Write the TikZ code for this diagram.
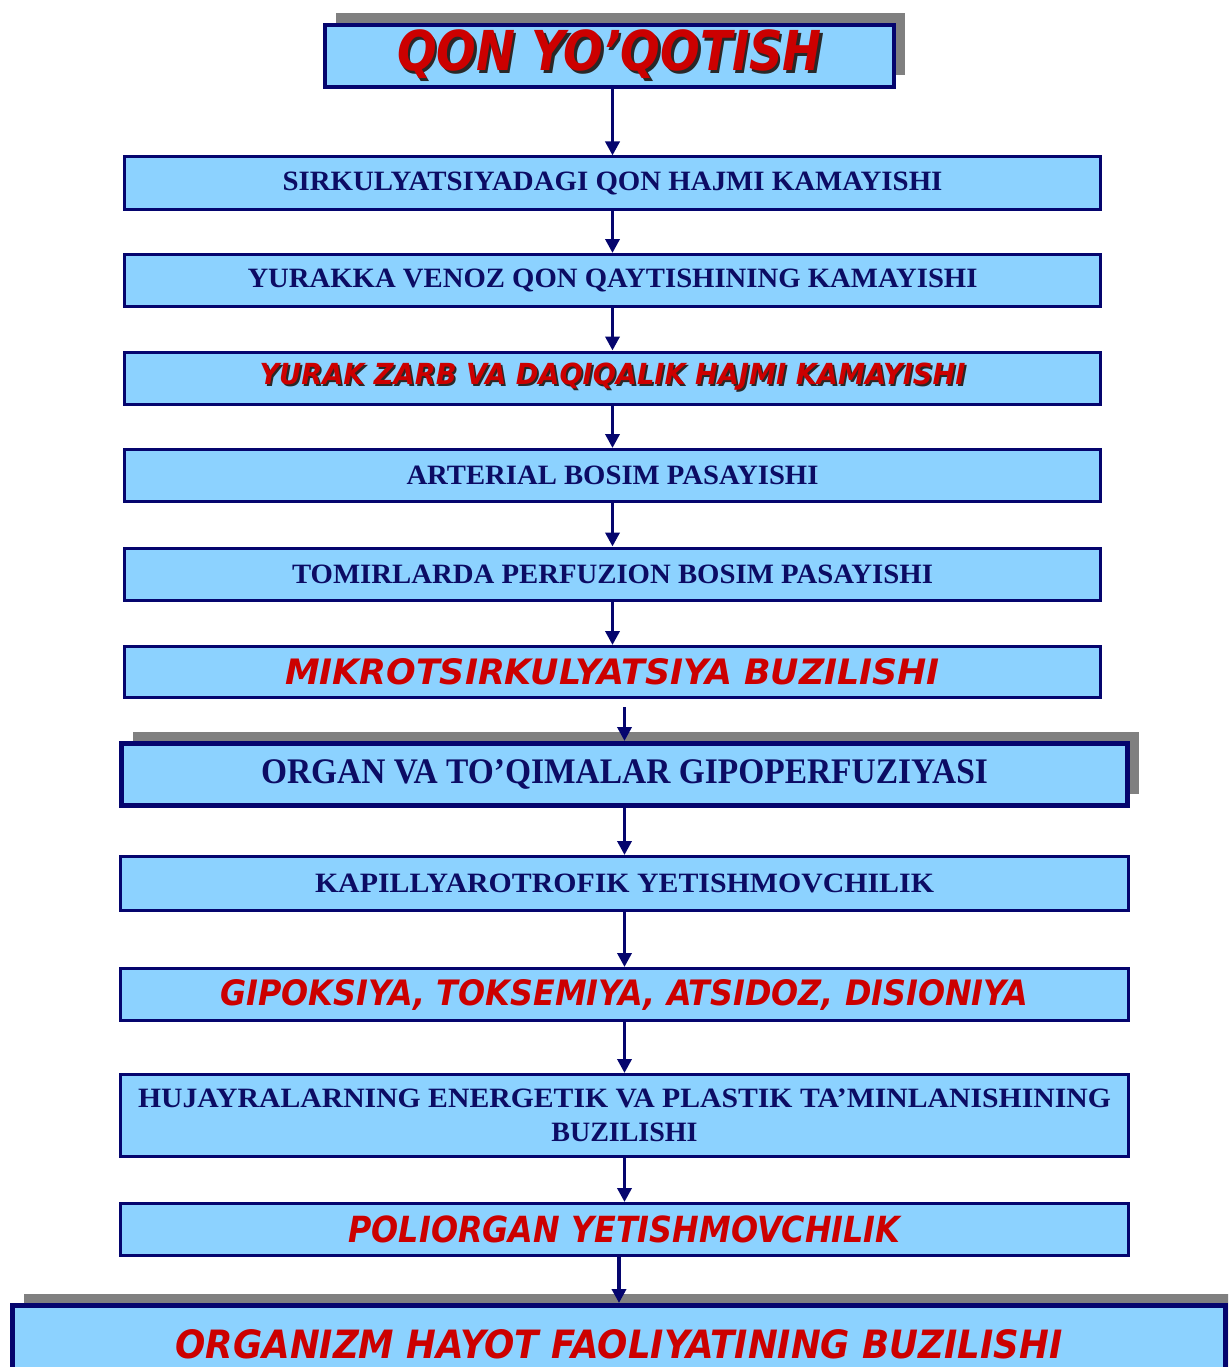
\documentclass[tikz,border=0pt]{standalone}
\usepackage{fontspec}
\setmainfont{Liberation Serif}
\newfontfamily\redsans{DejaVu Sans}
\usetikzlibrary{arrows.meta,shadows}

\definecolor{boxfill}{RGB}{140,210,255}
\definecolor{navyline}{RGB}{5,5,110}
\definecolor{navytext}{RGB}{12,12,100}
\definecolor{alertred}{RGB}{204,0,0}
\definecolor{shadowgray}{RGB}{128,128,128}
\definecolor{textshade}{RGB}{40,40,40}

% stretch or squeeze a label horizontally to a given width
\newlength\fitlen
\newcommand\fitto[2]{\settowidth\fitlen{#2}\pgfmathsetmacro\fitr{#1/\fitlen}\scalebox{\fitr}[1]{#2}}
% red lettering with a dark drop shadow
\newcommand\shtext[2][2pt]{\leavevmode\rlap{\kern#1\raisebox{-#1}{\color{textshade}#2}}#2}

\tikzset{
  box/.style={draw=navyline, fill=boxfill, line width=3pt, rectangle, inner sep=0pt,
              minimum width=976pt, minimum height=52pt, align=center},
  widebox/.style={box, minimum width=1008pt},
  serif/.style={font=\bfseries\fontsize{28pt}{34pt}\selectfont, text=navytext},
  alert/.style={font=\redsans\bfseries\itshape\fontsize{35pt}{40pt}\selectfont, text=alertred},
  gshadow/.style={general shadow={shadow xshift=11pt, shadow yshift=12pt, fill=shadowgray, draw=none}},
  arr/.style={draw=navyline, line width=3.5pt, -{Triangle[width=14pt,length=14pt]}},
}

\begin{document}
\begin{tikzpicture}[x=1pt, y=-1pt]
\clip (0,0) rectangle (1228,1367);
\fill[white] (0,0) rectangle (1228,1367);

% head of the chain
\node[box, gshadow, line width=4pt, minimum width=569pt, minimum height=62pt,
      font=\redsans\bfseries\itshape\fontsize{55pt}{60pt}\selectfont, text=alertred]
  (t) at (609.5,56) {\fitto{425pt}{\shtext[3pt]{QON YO’QOTISH}}};

% upper chain
\node[box, serif] (b2) at (612.5,183) {\fitto{660pt}{SIRKULYATSIYADAGI QON HAJMI KAMAYISHI}};
\node[box, serif] (b3) at (612.5,280.5) {\fitto{730pt}{YURAKKA VENOZ QON QAYTISHINING KAMAYISHI}};
\node[box, alert, font=\redsans\bfseries\itshape\fontsize{29pt}{34pt}\selectfont]
  (b4) at (612.5,378) {\fitto{706pt}{\shtext{YURAK ZARB VA DAQIQALIK HAJMI KAMAYISHI}}};
\node[box, serif] (b5) at (612.5,475.5) {\fitto{412pt}{ARTERIAL BOSIM PASAYISHI}};
\node[box, serif] (b6) at (612.5,574) {\fitto{641pt}{TOMIRLARDA PERFUZION BOSIM PASAYISHI}};
\node[box, alert, minimum height=51pt] (b7) at (612.5,672) {\fitto{655pt}{MIKROTSIRKULYATSIYA BUZILISHI}};

% lower chain
\node[widebox, gshadow, serif, line width=5pt, minimum width=1006pt, minimum height=62pt,
      font=\bfseries\fontsize{36pt}{40pt}\selectfont]
  (b8) at (624.5,774.5) {\fitto{727pt}{ORGAN VA TO’QIMALAR GIPOPERFUZIYASI}};
\node[widebox, serif, minimum height=54pt] (b9) at (624.5,883.5) {\fitto{619pt}{KAPILLYAROTROFIK YETISHMOVCHILIK}};
\node[widebox, alert] (b10) at (624.5,994.5) {\fitto{808pt}{GIPOKSIYA, TOKSEMIYA, ATSIDOZ, DISIONIYA}};
\node[widebox, serif, minimum height=82pt] (b11) at (624.5,1115.5)
  {\fitto{973pt}{HUJAYRALARNING ENERGETIK VA PLASTIK TA’MINLANISHINING}\\[0pt]BUZILISHI};
\node[widebox, alert, font=\redsans\bfseries\itshape\fontsize{36pt}{40pt}\selectfont]
  (b12) at (624.5,1229.5) {\fitto{552pt}{POLIORGAN YETISHMOVCHILIK}};

% outcome
\node[box, gshadow, line width=5pt, minimum width=1213pt, minimum height=92pt,
      font=\redsans\bfseries\itshape\fontsize{39pt}{44pt}\selectfont, text=alertred]
  (b13) at (619,1351.5) {\raisebox{15.5pt}{\fitto{887pt}{ORGANIZM HAYOT FAOLIYATINING BUZILISHI}}};

% connectors
\draw[arr] (t.south -| b2.north) -- (b2.north);
\draw[arr] (b2) -- (b3);
\draw[arr] (b3) -- (b4);
\draw[arr] (b4) -- (b5);
\draw[arr] (b5) -- (b6);
\draw[arr] (b6) -- (b7);
\draw[arr] ([yshift=-8pt]b7.south -| b8.north) -- (b8.north);
\draw[arr] (b8) -- (b9);
\draw[arr] (b9) -- (b10);
\draw[arr] (b10) -- (b11);
\draw[arr] (b11) -- (b12);
\draw[arr] (b12.south -| b13.north) -- (b13.north);
\end{tikzpicture}
\end{document}
